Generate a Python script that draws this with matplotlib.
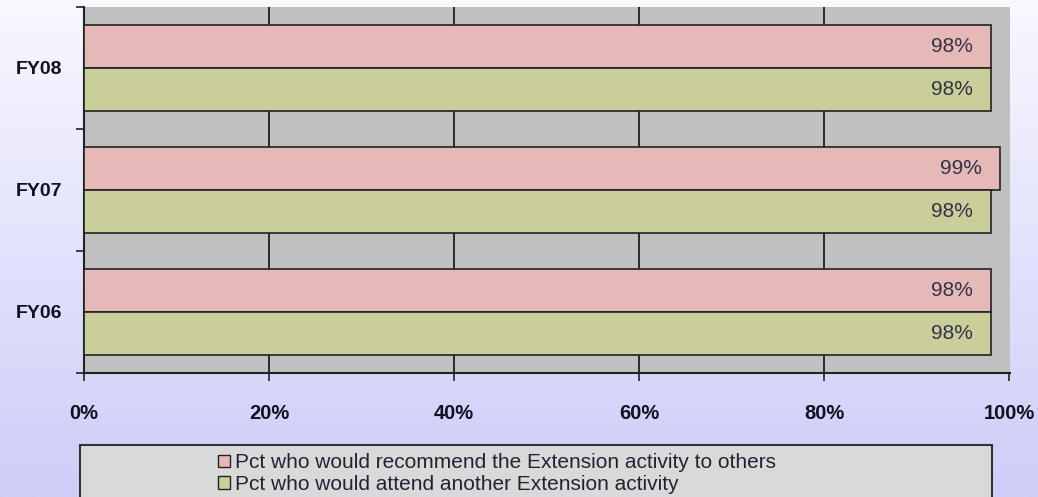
import matplotlib.pyplot as plt
import numpy as np
from matplotlib.patches import Rectangle, Patch

years = ["FY06", "FY07", "FY08"]
recommend = [98, 99, 98]
attend = [98, 98, 98]
series_names = ["Pct who would recommend the Extension activity to others",
                "Pct who would attend another Extension activity"]
x_ticks = [0, 20, 40, 60, 80, 100]

pink = "#E6B9B8"
green = "#CACE9B"

fig = plt.figure(figsize=(10.38, 4.97), dpi=100)

# lavender gradient background
bg = fig.add_axes([0, 0, 1, 1], zorder=-10)
grad = np.linspace(0, 1, 256).reshape(-1, 1)
top = np.array([248, 248, 255]) / 255
bot = np.array([205, 205, 248]) / 255
img = top + (bot - top) * grad[:, :, None]
bg.imshow(img, aspect="auto", extent=[0, 1, 0, 1])
bg.axis("off")

W, H = 1038, 497
ax = fig.add_axes([84 / W, 1 - 373 / H, (1010 - 84) / W, (373 - 7) / H])
ax.set_facecolor("#C0C0C0")

y = np.arange(len(years))
h = 0.35
ax.barh(y + h / 2, recommend, height=h, color=pink, edgecolor="#222222",
        linewidth=1.2, zorder=3)
ax.barh(y - h / 2, attend, height=h, color=green, edgecolor="#222222",
        linewidth=1.2, zorder=3)

for i in range(len(years)):
    ax.text(recommend[i] - 1.9, y[i] + h / 2, "%d%%" % recommend[i],
            ha="right", va="center", fontsize=15, color="#333344",
            family="Liberation Sans", zorder=4)
    ax.text(attend[i] - 1.9, y[i] - h / 2, "%d%%" % attend[i],
            ha="right", va="center", fontsize=15, color="#333344",
            family="Liberation Sans", zorder=4)

ax.set_xlim(0, 100.1)
ax.set_ylim(-0.5, 2.5)
ax.set_xticks(x_ticks)
ax.set_xticklabels(["%d%%" % t for t in x_ticks], fontsize=14.5,
                   fontweight="bold", family="Liberation Sans", color="#111122")
ax.set_yticks(y)
ax.set_yticklabels(years, fontsize=14, fontweight="bold",
                   family="Liberation Sans", color="#111122")
ax.tick_params(axis="y", length=0, pad=16)
ax.set_yticks([-0.5, 0.5, 1.5, 2.5], minor=True)
ax.tick_params(axis="y", which="minor", length=6, width=1.2, color="#222222")
ax.tick_params(axis="x", length=6, width=1.2, color="#222222", pad=16)
ax.xaxis.grid(True, color="#111111", linewidth=1.2, zorder=1)
ax.set_axisbelow(True)
# no gridline at the 100% edge
ax.get_xgridlines()[-1].set_visible(False)
for s in ["top", "right"]:
    ax.spines[s].set_visible(False)
for s in ["left", "bottom"]:
    ax.spines[s].set_color("#222222")
    ax.spines[s].set_linewidth(1.5)

# legend box, runs off the bottom edge
fig.patches.append(Rectangle((80 / W, -0.02), (992 - 80) / W, 0.02 + (497 - 445) / H,
                             transform=fig.transFigure, facecolor="#D9D9D9",
                             edgecolor="#333333", linewidth=1.5, zorder=1))
handles = [Patch(facecolor=pink, edgecolor="#222222"),
           Patch(facecolor=green, edgecolor="#222222")]
leg = fig.legend(handles, series_names, loc="upper left",
                 bbox_to_anchor=(208 / W, 1 - 443 / H), frameon=False,
                 prop={"family": "Liberation Sans", "size": 15},
                 labelcolor="#222233",
                 handlelength=0.55, handleheight=0.55, handletextpad=0.25,
                 labelspacing=0.12, borderpad=0.0)
leg.set_zorder(5)

fig.savefig("out.png", dpi=100)
